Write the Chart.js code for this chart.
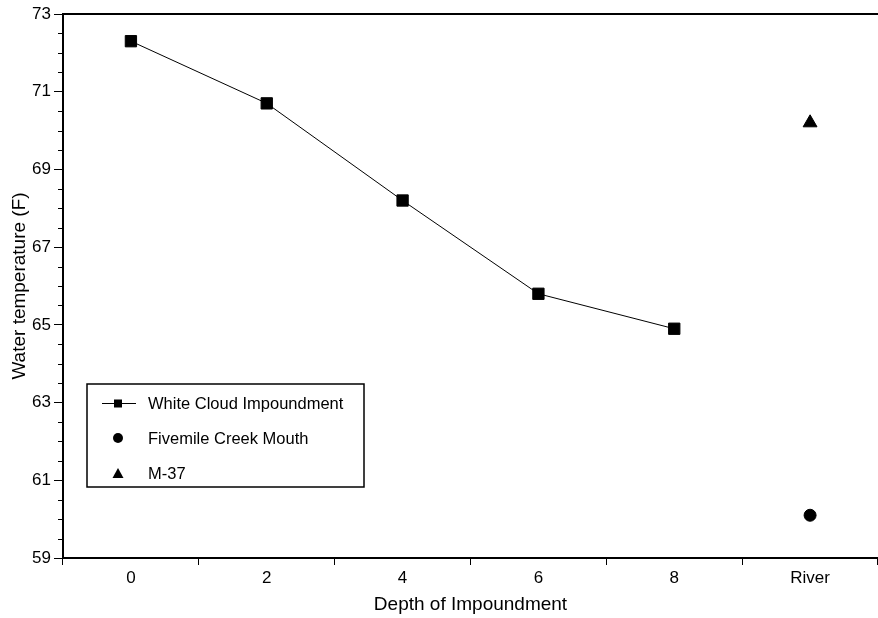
<!DOCTYPE html>
<html><head><meta charset="utf-8">
<script src="https://cdn.jsdelivr.net/npm/chart.js@4"></script>
<style>html,body{margin:0;padding:0;background:#fff}</style>
</head><body>
<canvas id="c" width="878" height="618"></canvas>
<script>
const categories = ['0', '2', '4', '6', '8', 'River'];
const impoundment = [72.3, 70.7, 68.2, 65.8, 64.9, null];
const fivemile = [null, null, null, null, null, 60.1];
const m37 = [null, null, null, null, null, 70.2];
const yTicks = [59, 61, 63, 65, 67, 69, 71, 73];
const seriesNames = ['White Cloud Impoundment', 'Fivemile Creek Mouth', 'M-37'];
const FONT = "'Liberation Sans', Arial, sans-serif";

const extras = {
  id: 'extras',
  afterDraw(chart) {
    const ctx = chart.ctx, a = chart.chartArea, ys = chart.scales.y;
    ctx.save();
    // top frame line
    ctx.strokeStyle = '#000'; ctx.lineWidth = 2;
    ctx.beginPath(); ctx.moveTo(a.left - 1, a.top); ctx.lineTo(a.right + 2, a.top); ctx.stroke();
    // minor ticks
    ctx.lineWidth = 1;
    for (let v = yTicks[0]; v <= yTicks[yTicks.length - 1]; v += 0.5) {
      if (yTicks.includes(v)) continue;
      const py = Math.round(ys.getPixelForValue(v)) + 0.5;
      ctx.beginPath(); ctx.moveTo(a.left - 5, py); ctx.lineTo(a.left, py); ctx.stroke();
    }
    // legend
    const bx = a.left + 24, by = a.top + 370, bw = 277, bh = 103;
    ctx.lineWidth = 1.5;
    ctx.strokeRect(bx, by, bw, bh);
    ctx.font = '16.5px ' + FONT;
    ctx.fillStyle = '#000';
    ctx.textBaseline = 'middle';
    ctx.textAlign = 'left';
    const sx = bx + 31, tx = bx + 61;
    const rows = [by + 19, by + 54, by + 89];
    chart.data.datasets.forEach((ds, i) => {
      const y = rows[i];
      ctx.fillStyle = '#000';
      if (i === 0) {
        ctx.lineWidth = 1;
        ctx.beginPath(); ctx.moveTo(sx - 16, y + 0.5); ctx.lineTo(sx + 18, y + 0.5); ctx.stroke();
        ctx.fillRect(sx - 4, y - 3.5, 8, 8);
      } else if (i === 1) {
        ctx.beginPath(); ctx.arc(sx, y, 5, 0, Math.PI * 2); ctx.fill();
      } else {
        ctx.beginPath(); ctx.moveTo(sx, y - 5); ctx.lineTo(sx + 5.5, y + 5); ctx.lineTo(sx - 5.5, y + 5); ctx.closePath(); ctx.fill();
      }
      ctx.fillText(ds.label, tx, y + 1);
    });
    ctx.restore();
  }
};

new Chart(document.getElementById('c'), {
  type: 'line',
  data: {
    labels: categories,
    datasets: [
      { label: seriesNames[0], data: impoundment, borderColor: '#000', borderWidth: 1, backgroundColor: '#000',
        pointStyle: 'rect', pointRadius: 8, pointBackgroundColor: '#000', pointBorderColor: '#000', pointBorderWidth: 1, spanGaps: false },
      { label: seriesNames[1], data: fivemile, showLine: false, pointStyle: 'circle', pointRadius: 6,
        pointBackgroundColor: '#000', pointBorderColor: '#000', pointBorderWidth: 1 },
      { label: seriesNames[2], data: m37, showLine: false, pointStyle: 'triangle', pointRadius: 8,
        pointBackgroundColor: '#000', pointBorderColor: '#000', pointBorderWidth: 1 }
    ]
  },
  options: {
    responsive: false,
    animation: false,
    layout: { autoPadding: false, padding: { top: 14, right: 0, bottom: 0, left: 0 } },
    plugins: { legend: { display: false }, tooltip: { enabled: false } },
    scales: {
      x: {
        type: 'category',
        offset: true,
        grid: { offset: true, drawOnChartArea: false, tickLength: 7, tickColor: '#000', lineWidth: 1 },
        border: { display: true, color: '#000', width: 2 },
        ticks: { color: '#000', font: { family: FONT, size: 17 }, padding: 3, maxRotation: 0, autoSkip: false },
        title: { display: true, text: 'Depth of Impoundment', color: '#000', font: { family: FONT, size: 19 }, padding: { top: 0, bottom: 2 } },
        afterFit(s) { s.height = 60; s.paddingLeft = 0; s.paddingRight = 0; }
      },
      y: {
        min: yTicks[0], max: yTicks[yTicks.length - 1],
        afterBuildTicks(s) { s.ticks = yTicks.map(v => ({ value: v })); },
        grid: { drawOnChartArea: false, tickLength: 9, tickColor: '#000', lineWidth: 1 },
        border: { display: true, color: '#000', width: 2 },
        ticks: { color: '#000', font: { family: FONT, size: 17 }, padding: 3, autoSkip: false },
        title: { display: true, text: 'Water temperature (F)', color: '#000', font: { family: FONT, size: 19 }, padding: { top: 8, bottom: 0 } },
        afterFit(s) { s.width = 63; s.paddingTop = 0; s.paddingBottom = 0; }
      }
    }
  },
  plugins: [extras]
});
</script>
</body></html>
